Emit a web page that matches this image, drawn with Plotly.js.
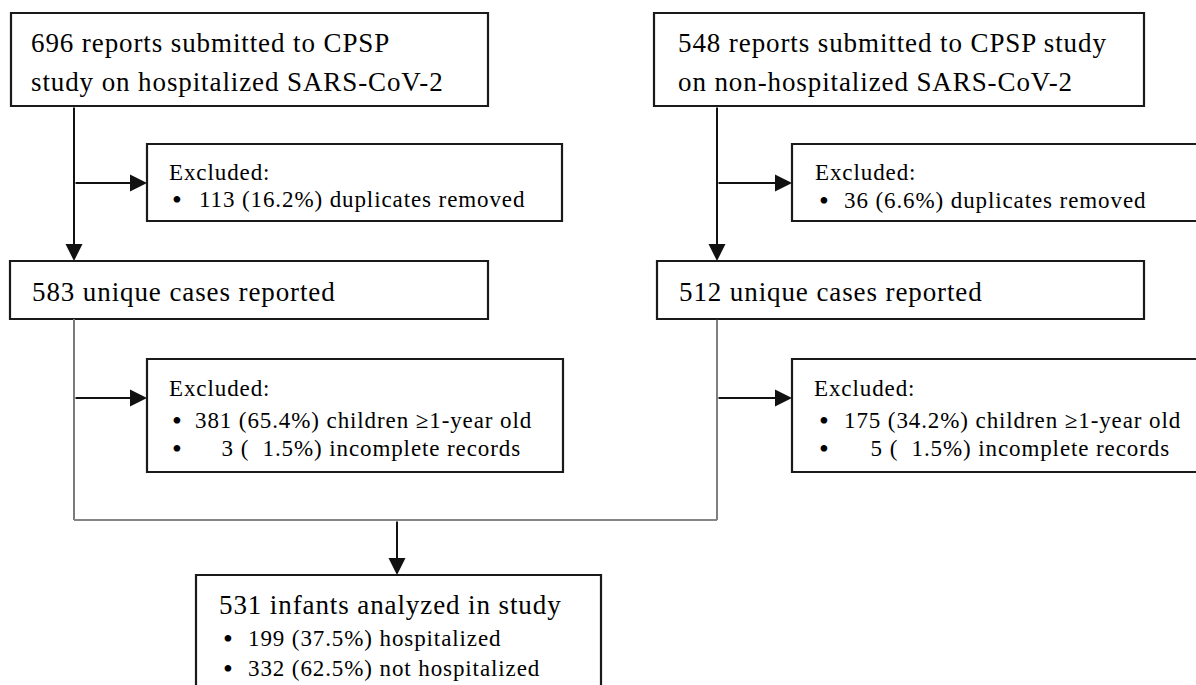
<!DOCTYPE html>
<html>
<head>
<meta charset="utf-8">
<script src="https://cdn.plot.ly/plotly-3.0.1.min.js"></script>
<style>
  html, body { margin: 0; padding: 0; background: #ffffff; }
  #chart { width: 1196px; height: 685px; }
  .annotation-text { letter-spacing: 0.9px; }
</style>
</head>
<body>
<div id="chart"></div>
<script>
// ---------------- data ----------------
const cohorts = ['hospitalized', 'non-hospitalized'];
const reportsSubmitted = [696, 548];
const duplicatesRemoved = [113, 36];
const duplicatesPct = [16.2, 6.6];
const uniqueCases = [583, 512];
const olderChildren = [381, 175];
const olderChildrenPct = [65.4, 34.2];
const incompleteRecords = [3, 5];
const incompletePct = [1.5, 1.5];
const infantsAnalyzed = 531;
const outcomeLabels = ['hospitalized', 'not hospitalized'];
const outcomeCounts = [199, 332];
const outcomePct = [37.5, 62.5];

// ---------------- geometry / style (pixel coordinates on axes) ----------------
const W = 1196, H = 685;
const BIG = 27, SMALL = 23, BULLET = 28;
const FONT = 'Liberation Serif';
const INK = '#000000';
const NB = '\u00A0';

const topBox   = [{x0: 11,  x1: 488,  y0: 13,  y1: 106, tx: 29,  ty: [43, 82]},
                  {x0: 654, x1: 1144, y0: 13,  y1: 106, tx: 676, ty: [43, 82]}];
const dupBox   = [{x0: 147, x1: 562,  y0: 144, y1: 221, hx: 167, bx: 170, tx: 197, ty: [172, 199]},
                  {x0: 792, x1: 1215, y0: 144, y1: 221, hx: 813, bx: 817, tx: 842, ty: [172, 200]}];
const uniqBox  = [{x0: 10,  x1: 488,  y0: 261, y1: 319, tx: 30,  ty: 292},
                  {x0: 657, x1: 1144, y0: 261, y1: 319, tx: 677, ty: 292}];
const exclBox  = [{x0: 147, x1: 563,  y0: 359, y1: 472, hx: 167, bx: 170, tx: 193, ty: [388, 420, 448]},
                  {x0: 792, x1: 1215, y0: 359, y1: 472, hx: 812, bx: 817, tx: 842, ty: [388, 420, 448]}];
const spineX   = [74, 717];
const dupArrowY = 183, exclArrowY = 398, joinY = 520;
const finalBox = {x0: 196, x1: 601, y0: 575, y1: 705, tx: 217, bx: 221, btx: 246, ty: [605, 638, 668], ax: 397};

// ---------------- helpers ----------------
const fmt = v => v.toFixed(1);
const shapes = [];
const annotations = [];

function rect(b) {
  shapes.push({type: 'rect', xref: 'x', yref: 'y', x0: b.x0, x1: b.x1, y0: b.y0, y1: b.y1,
               line: {color: '#1a1a1a', width: 2.2}, fillcolor: 'rgba(0,0,0,0)', layer: 'above'});
}
function seg(x0, y0, x1, y1, color, width) {
  shapes.push({type: 'line', xref: 'x', yref: 'y', x0, y0, x1, y1, line: {color, width}});
}
function arrow(xTail, yTail, xTip, yTip) {
  annotations.push({xref: 'x', yref: 'y', axref: 'x', ayref: 'y', x: xTip, y: yTip, ax: xTail, ay: yTail,
                    text: '', showarrow: true, arrowhead: 2, arrowsize: 1.7, arrowwidth: 2,
                    arrowcolor: '#111111', standoff: 0, startstandoff: 0});
}
function label(text, x, y, size) {
  annotations.push({xref: 'x', yref: 'y', x, y, text, showarrow: false, xanchor: 'left', yanchor: 'middle',
                    font: {family: FONT, size, color: INK}});
}

// ---------------- build the flow chart ----------------
const topLines = [
  [`${reportsSubmitted[0]} reports submitted to CPSP`, `study on ${cohorts[0]} SARS-CoV-2`],
  [`${reportsSubmitted[1]} reports submitted to CPSP study`, `on ${cohorts[1]} SARS-CoV-2`]
];

for (let i = 0; i < 2; i++) {
  const t = topBox[i], d = dupBox[i], u = uniqBox[i], e = exclBox[i], sx = spineX[i];
  rect(t); rect(d); rect(u); rect(e);
  label(topLines[i][0], t.tx, t.ty[0], BIG);
  label(topLines[i][1], t.tx, t.ty[1], BIG);

  label('Excluded:', d.hx, d.ty[0], SMALL);
  label('\u2022', d.bx, d.ty[1], BULLET);
  label(`${duplicatesRemoved[i]} (${fmt(duplicatesPct[i])}%) duplicates removed`, d.tx, d.ty[1], SMALL);

  label(`${uniqueCases[i]} unique cases reported`, u.tx, u.ty, BIG);

  label('Excluded:', e.hx, e.ty[0], SMALL);
  label('\u2022', e.bx, e.ty[1], BULLET);
  label(`${olderChildren[i]} (${fmt(olderChildrenPct[i])}%) children \u22651-year old`, e.tx, e.ty[1], SMALL);
  label('\u2022', e.bx, e.ty[2], BULLET);
  label(`${NB.repeat(4)}${incompleteRecords[i]} (${NB.repeat(2)}${fmt(incompletePct[i])}%) incomplete records`, e.tx, e.ty[2], SMALL);

  // top box -> unique box, with a side arrow to the duplicates box
  arrow(sx, t.y1, sx, u.y0);
  arrow(sx, dupArrowY, d.x0, dupArrowY);
  // thin connector from unique box to the join line, with a side arrow to the exclusion box
  seg(sx, u.y1, sx, joinY, i === 0 ? '#7a7a7a' : '#3a3a3a', i === 0 ? 2 : 1.3);
  arrow(sx, exclArrowY, e.x0, exclArrowY);
}
seg(spineX[0], joinY, spineX[1], joinY, '#858585', 2);
arrow(finalBox.ax, joinY, finalBox.ax, finalBox.y0);

rect(finalBox);
label(`${infantsAnalyzed} infants analyzed in study`, finalBox.tx, finalBox.ty[0], BIG);
for (let k = 0; k < outcomeLabels.length; k++) {
  label('\u2022', finalBox.bx, finalBox.ty[k + 1], BULLET);
  label(`${outcomeCounts[k]} (${fmt(outcomePct[k])}%) ${outcomeLabels[k]}`, finalBox.btx, finalBox.ty[k + 1], SMALL);
}

const layout = {
  width: W, height: H,
  margin: {l: 0, r: 0, t: 0, b: 0, pad: 0},
  paper_bgcolor: '#ffffff', plot_bgcolor: '#ffffff',
  showlegend: false,
  xaxis: {range: [0, W], visible: false, fixedrange: true},
  yaxis: {range: [H, 0], visible: false, fixedrange: true},
  shapes, annotations
};

Plotly.newPlot('chart', [{x: [], y: [], type: 'scatter', mode: 'markers', hoverinfo: 'skip'}], layout,
               {displayModeBar: false, staticPlot: true});
</script>
</body>
</html>
